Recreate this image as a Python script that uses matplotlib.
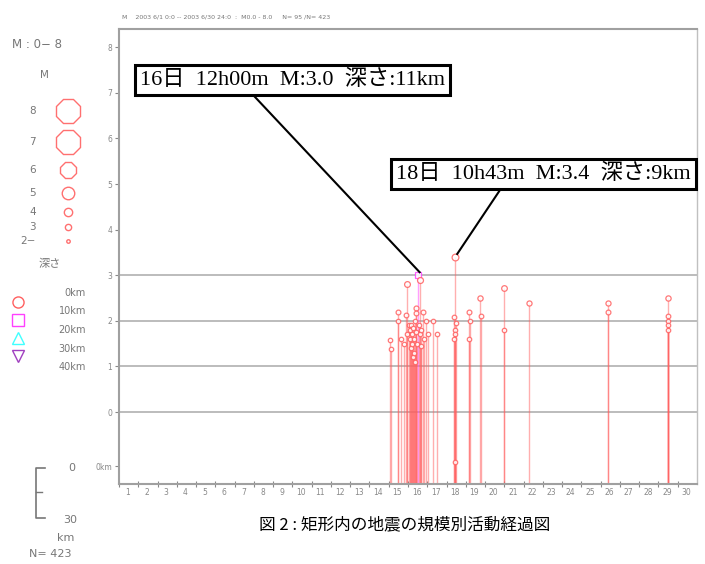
import matplotlib
matplotlib.use("Agg")
import matplotlib.pyplot as plt

# event data: day (with fraction), magnitude, depth km
days = [15.08, 15.10, 15.46, 15.48, 15.62, 15.78, 15.93, 15.90, 15.95,
        16.05, 16.10, 16.12, 16.15, 16.18, 16.20, 16.22, 16.25, 16.28,
        16.30, 16.33, 16.36, 16.38, 16.40, 16.42, 16.44, 16.46, 16.50,
        16.55, 16.60, 16.62, 16.65, 16.70, 16.80, 16.85, 16.96, 17.05,
        17.30, 17.50,
        18.45, 18.40, 18.42, 18.43, 18.47, 18.38, 18.42,
        19.18, 19.20, 19.17, 19.75, 19.77, 20.99, 20.99, 22.30,
        26.36, 26.37, 29.50, 29.48, 29.50, 29.52, 29.49]
mags = [1.58, 1.38, 2.2, 2.0, 1.6, 1.5, 2.8, 2.13, 1.7,
        1.9, 1.8, 1.6, 1.4, 1.9, 1.7, 1.5, 1.2, 1.85,
        1.3, 1.6, 2.0, 1.1, 1.75, 2.28, 2.17, 1.5, 3.0,
        1.9, 2.9, 1.7, 1.45, 1.8, 2.2, 1.6, 2.0, 1.7,
        2.0, 1.7,
        3.4, 2.08, 1.8, 1.7, 1.95, 1.6, -1.1,
        2.2, 2.0, 1.6, 2.5, 2.1, 2.72, 1.8, 2.4,
        2.4, 2.2, 2.5, 2.1, 2.0, 1.8, 1.9]
depths = [8] * len(days)
depths[26] = 11  # 16日 12h00m
depths[38] = 9   # 18日 10h43m

day_labels = [str(d) for d in range(1, 31)]
y_ticks = [8, 7, 6, 5, 4, 3, 2, 1, 0]

# legend contents
leg_m = ["8", "7", "6", "5", "4", "3", "2−"]
leg_m_size = [19, 18, 13, 9, 6, 4.5, 2.5]
leg_depth = ["0km", "10km", "20km", "30km", "40km"]
depth_colors = ["#ff6060", "#ff40ff", "#40ffff", "#a040c0"]
depth_markers = ["o", "s", "^", "v"]

annotations = [
    ("16日  12h00m  M:3.0  深さ:11km", 16.50, 3.0, 135, 63),
    ("18日  10h43m  M:3.4  深さ:9km", 18.45, 3.4, 391, 157),
]

W, H = 705, 564
fig = plt.figure(figsize=(W / 100, H / 100), dpi=100)
ax = fig.add_axes([119 / W, 1 - 484 / H, (697 - 119) / W, (484 - 29) / H])

ymin = (412 - 484) / 45.6
ymax = (412 - 29) / 45.6
ax.set_xlim(1, 31)
ax.set_ylim(ymin, ymax)

for g in [0, 1, 2, 3]:
    ax.axhline(g, color="#b0b0b0", lw=1.2, zorder=1)

for d, m, z in zip(days, mags, depths):
    k = min(int(z // 10), 3)
    ax.vlines(d, ymin, m, color=depth_colors[k], lw=1, alpha=0.5, zorder=2)
    size = 3.2 + max(m - 2, 0) * 1.2
    ax.plot(d, m, marker=depth_markers[k], ms=size, mfc="white",
            mec=depth_colors[k], mew=0.9, alpha=0.85, zorder=3)

ax.set_yticks(y_ticks + [(412 - 466) / 45.6])
ax.set_yticklabels([str(t) for t in y_ticks] + ["0km"])
ax.tick_params(axis="y", labelsize=5.5, colors="#888888", length=3, pad=2)
ax.set_xticks(range(1, 31))
ax.set_xticklabels([])
ax.set_xticks([d + 0.45 for d in range(1, 31)], minor=True)
ax.set_xticklabels(day_labels, minor=True)
ax.tick_params(axis="x", which="major", direction="inout", length=4,
               colors="#888888")
ax.tick_params(axis="x", which="minor", length=0, labelsize=5.5,
               labelcolor="#888888", pad=3)
for s in ["left", "bottom", "top"]:
    ax.spines[s].set_color("#a0a0a0")
    ax.spines[s].set_linewidth(1.5)
ax.spines["right"].set_color("#c0c0c0")
ax.spines["right"].set_linewidth(1)

# overlay in pixel coordinates for legend and annotations
ov = fig.add_axes([0, 0, 1, 1], facecolor="none")
ov.set_xlim(0, W)
ov.set_ylim(H, 0)
ov.axis("off")

grey = "#777777"
ov.text(122, 17, "M    2003 6/1 0:0 -- 2003 6/30 24:0  :  M0.0 - 8.0     N= 95 /N= 423",
        fontsize=4.5, color=grey, va="center")
ov.text(12, 45, "M : 0− 8", fontsize=8.5, color=grey, va="center")
ov.text(40, 75, "M", fontsize=7.5, color=grey, va="center")
leg_y = [111, 142, 170, 193, 212, 227, 241]
for lab, sz, yy in zip(leg_m, leg_m_size, leg_y):
    ov.text(36, yy, lab, fontsize=7.5, color=grey, va="center", ha="right")
    mk = "8" if sz > 10 else "o"
    ov.plot(68, yy, marker=mk, ms=sz, mfc="white", mec="#ff7070", mew=1)
ov.text(50, 264, "深さ", fontsize=8, color=grey, va="center", ha="center",
        family=["Noto Sans CJK JP", "DejaVu Sans"])
for i, lab in enumerate(leg_depth):
    ov.text(86, 293 + i * 18.5, lab, fontsize=7, color=grey, va="center",
            ha="right")
for i in range(4):
    ov.plot(18, 302 + i * 18, marker=depth_markers[i], ms=8, mfc="white",
            mec=depth_colors[i], mew=1)

# depth scale bar
ov.plot([45, 36, 36, 45], [468, 468, 518, 518], color=grey, lw=1.2)
ov.plot([36, 42], [492, 492], color=grey, lw=1)
ov.text(72, 468, "0", fontsize=8, color=grey, va="center", ha="center")
ov.text(70, 520, "30", fontsize=8, color=grey, va="center", ha="center")
ov.text(66, 538, "km", fontsize=8, color=grey, va="center", ha="center")
ov.text(50, 554, "N= 423", fontsize=8, color=grey, va="center", ha="center")

fam = ["Liberation Serif", "Noto Sans CJK JP"]
for txt, d, m, bx, by in annotations:
    ov.text(bx + 5, by + 17, txt, fontsize=16, va="center", ha="left",
            family=fam, zorder=5,
            bbox=dict(boxstyle="square,pad=0.22", fc="white", ec="black",
                      lw=2.2))
    px, py = ax.transData.transform((d, m))
    px, py = ov.transData.inverted().transform((px, py))
    if bx < 200:
        start = (255, by + 34)
    else:
        start = (500, by + 33)
    ov.plot([start[0], px + 2], [start[1], py - 3], color="black", lw=1.5,
            zorder=4)

ov.text(405, 525, "図 2 : 矩形内の地震の規模別活動経過図", fontsize=12,
        ha="center", va="center",
        family=["Noto Sans CJK JP", "DejaVu Sans"])

fig.savefig("out.png", dpi=100)
